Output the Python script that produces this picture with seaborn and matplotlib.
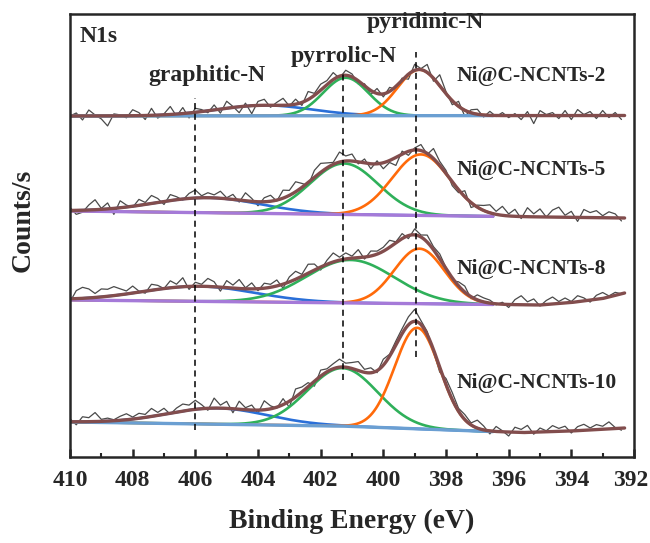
import numpy as np
import pandas as pd
import matplotlib
matplotlib.use("Agg")
import matplotlib.pyplot as plt
from matplotlib.ticker import MultipleLocator, FixedLocator
import seaborn as sns

# ---------------- data ----------------
samples = ["Ni@C-NCNTs-2", "Ni@C-NCNTs-5", "Ni@C-NCNTs-8", "Ni@C-NCNTs-10"]
components = ["graphitic-N", "pyrrolic-N", "pyridinic-N"]
tick_values = [410, 408, 406, 404, 402, 400, 398, 396, 394, 392]
tick_labels = ["410", "408", "406", "404", "402", "400", "398", "396", "394", "392"]

# fitted peak parameters per sample (centre eV, height, gaussian width eV)
graphitic_center = [403.8, 405.6, 405.9, 405.3]
graphitic_height = [10.5, 15.0, 15.0, 16.0]
graphitic_width = [1.5, 1.7, 1.8, 1.6]
pyrrolic_center = [401.2, 401.25, 401.05, 401.3]
pyrrolic_height = [38.0, 51.0, 43.0, 58.0]
pyrrolic_width = [0.72, 1.08, 1.4, 1.12]
pyridinic_center = [398.85, 398.8, 398.85, 398.92]
pyridinic_height = [46.0, 61.0, 55.0, 101.0]
pyridinic_width = [0.70, 0.92, 0.80, 0.72]

# background knots per sample (binding energy, counts offset)
bg_energy_2 = [410.0, 392.3]
bg_counts_2 = [344.0, 344.5]
bg_energy_5 = [410.0, 392.3]
bg_counts_5 = [249.0, 242.0]
bg_energy_8 = [410.0, 396.4, 395.0, 394.0, 393.0, 392.3]
bg_counts_8 = [160.0, 155.5, 155.0, 157.5, 161.5, 167.0]
bg_energy_10 = [410.0, 401.4, 396.6, 395.5, 394.0, 392.3]
bg_counts_10 = [38.0, 34.0, 28.5, 27.5, 29.0, 32.0]

# raw-spectrum residuals relative to the fit envelope (410.0 -> 392.4 eV, 0.2 eV step)
resid_2 = [0, 3, -4, 6, 1, -3, -10, 2, 1, -2, 6,
           3, -4, 7, -3, 1, 8, -2, 6, -5, 4,
           2, -2, 5, -4, 7, 1, -6, 3, -8, 4,
           6, -2, 3, 7, -1, 5, -3, 8, 2, 6,
           4, 7, -2, 5, 3, -3, 2, -4, 5, -3,
           4, -3, 2, -5, 6, 1, 8, -3, 11, 2,
           -4, 5, -6, 3, 5, -2, 4, -1, 3, -2,
           2, -4, 4, -8, 5, 1, 3, -3, 5, -4,
           6, 1, 4, -3, 5, -2, 3, -4]
resid_5 = [3, -4, -2, 5, 10, 1, 6, -6, 7, 2, -1,
           6, 2, 8, 4, -3, 6, 3, -1, 5, 8,
           2, 5, 3, 7, 1, 5, -2, 8, 3, -4,
           4, 6, -1, 8, 5, 10, 4, -3, 7, 9,
           5, 2, 10, 5, 7, -2, 4, -5, 3, -6,
           -2, -8, 3, -4, 2, 6, -1, 10, 4, 3,
           -4, -3, 6, -5, 2, 5, 8, 3, 9, 2,
           7, -2, 9, 3, 8, 0, 7, 10, 2, 6,
           -4, 8, 5, 7, 2, 6, 4, -3]
resid_8 = [-3, 8, 11, 9, 4, 8, 7, 9, 6, 3, 7,
           1, -2, 6, 4, 0, 7, 3, 9, -3, 4,
           2, 8, 5, -4, 7, 3, 9, 1, 6, -2,
           5, 3, 6, -4, 5, 8, 2, 9, 6, -3,
           4, 9, 3, 6, 2, 8, -2, 5, 3, 4,
           7, 1, 5, -3, 6, 2, 7, 3, 5, 1,
           -3, 4, 6, -2, 5, 4, 3, -1, 2, -3,
           5, 9, 3, 6, -1, 4, 7, 2, 5, 1,
           6, 3, -2, 4, 6, 1, 3, 0]
resid_10 = [3, -3, 5, 4, 9, 2, 3, 1, 4, 6, 2,
            5, 3, 8, 3, 6, -1, 4, 7, 5, 9,
            4, -2, 10, 3, 7, -4, 8, 2, 5, -3,
            9, 3, -1, 6, -6, 8, 5, 4, -5, 6,
            3, 5, 8, 4, 6, 9, 3, 5, -2, 6,
            2, 4, 5, 8, 12, 4, 3, -2, -5, 6,
            7, 3, 5, 2, 8, 4, -3, 5, 1, -4,
            5, 3, 7, -2, 4, 1, 6, 3, 5, -2,
            4, 6, 2, 5, 3, 7, 1, -2]

# label positions (eV, counts)
label_energy = [397.65, 397.65, 397.65, 397.65]
label_counts = [384, 290, 191, 77]
marker_energy = [406.0, 401.3, 398.95]
marker_top = [362, 388, 408]
marker_bottom = [30, 80, 103]

# ---------------- styling ----------------
sns.set_style("ticks")
plt.rcParams["font.family"] = ["Liberation Serif", "DejaVu Serif"]
plt.rcParams["font.weight"] = "bold"
plt.rcParams["axes.labelweight"] = "bold"

col_raw = "#4a4a4a"
col_env = "#824d4d"
col_blue = "#2a6fd8"
col_green = "#2fb05a"
col_orange = "#ff6a0a"
bg_colors = ["#6b9fd2", "#a57ad8", "#a57ad8", "#6b9fd2"]

energy = np.round(np.arange(410.0, 392.3, -0.2), 2)
fine = np.round(np.arange(410.0, 392.29, -0.02), 3)

bg_e = [bg_energy_2, bg_energy_5, bg_energy_8, bg_energy_10]
bg_c = [bg_counts_2, bg_counts_5, bg_counts_8, bg_counts_10]
resids = [resid_2, resid_5, resid_8, resid_10]


def gauss(x, c, h, w):
    return h * np.exp(-(x - c) ** 2 / (2 * w ** 2))


def background(x, i):
    return np.interp(-np.asarray(x), -np.asarray(bg_e[i]), bg_c[i])


fig = plt.figure(figsize=(6.5, 5.43), dpi=100)
ax = fig.add_axes([70 / 650, (543 - 457) / 543, 564 / 650, 443 / 543])

for i in range(4):
    mask = fine >= 396.5
    comp_x = fine[mask]
    bgc = background(comp_x, i)
    peaks_f = [
        gauss(fine, graphitic_center[i], graphitic_height[i], graphitic_width[i]),
        gauss(fine, pyrrolic_center[i], pyrrolic_height[i], pyrrolic_width[i]),
        gauss(fine, pyridinic_center[i], pyridinic_height[i], pyridinic_width[i]),
    ]
    env = background(fine, i) + sum(peaks_f)
    env_raw = background(energy, i) + \
        gauss(energy, graphitic_center[i], graphitic_height[i], graphitic_width[i]) + \
        gauss(energy, pyrrolic_center[i], pyrrolic_height[i], pyrrolic_width[i]) + \
        gauss(energy, pyridinic_center[i], pyridinic_height[i], pyridinic_width[i])
    raw = env_raw + np.array(resids[i], dtype=float)

    sns.lineplot(x=energy, y=raw, ax=ax, color=col_raw, lw=0.9, estimator=None, sort=False)
    for pk, col in zip(peaks_f, [col_blue, col_green, col_orange]):
        sns.lineplot(x=comp_x, y=bgc + pk[mask], ax=ax, color=col, lw=1.9,
                     estimator=None, sort=False)
    sns.lineplot(x=comp_x, y=bgc, ax=ax, color=bg_colors[i], lw=2.4, estimator=None, sort=False)
    sns.lineplot(x=fine, y=env, ax=ax, color=col_env, lw=2.4, estimator=None, sort=False)

    ax.text(label_energy[i], label_counts[i], samples[i], ha="left", va="center",
            fontsize=15.5, fontweight="bold")

for e, t, b in zip(marker_energy, marker_top, marker_bottom):
    ax.plot([e, e], [b, t], color="black", lw=1.1, ls=(0, (4, 3)))

ax.text(409.68, 418, "N1s", ha="left", va="baseline", fontsize=17, fontweight="bold")
ax.text(405.63, 379, components[0], ha="center", va="baseline", fontsize=17, fontweight="bold")
ax.text(401.25, 398, components[1], ha="center", va="baseline", fontsize=17, fontweight="bold")
ax.text(398.67, 432, components[2], ha="center", va="baseline", fontsize=17, fontweight="bold")

ax.set_xlim(410, 392)
ax.set_ylim(3, 446)
ax.xaxis.set_major_locator(FixedLocator(tick_values))
ax.set_xticklabels(tick_labels[:-1] + [""])
ax.xaxis.set_minor_locator(MultipleLocator(1))
ax.tick_params(axis="x", which="major", direction="in", length=6, width=1.8,
               labelsize=17, pad=9)
ax.tick_params(axis="x", which="minor", direction="in", length=3, width=1.5)
ax.set_yticks([])
for s in ax.spines.values():
    s.set_linewidth(1.8)
    s.set_visible(True)
for lab in ax.get_xticklabels():
    lab.set_fontweight("bold")
# last tick label nudged inward so it stays inside the canvas
ax.text(tick_values[-1] + 0.1, -12.5 / 443, tick_labels[-1], transform=ax.get_xaxis_transform(),
        ha="center", va="top", fontsize=17, fontweight="bold", clip_on=False)

ax.set_xlabel("Binding Energy (eV)", fontsize=20, fontweight="bold")
ax.set_ylabel("Counts/s", fontsize=20, fontweight="bold")
ax.xaxis.set_label_coords(0.5, -0.145)
ax.yaxis.set_label_coords(-0.083, 0.535)
ax.xaxis.label.set_va("center")
ax.yaxis.label.set_va("center")

fig.savefig("out.png", dpi=100)
